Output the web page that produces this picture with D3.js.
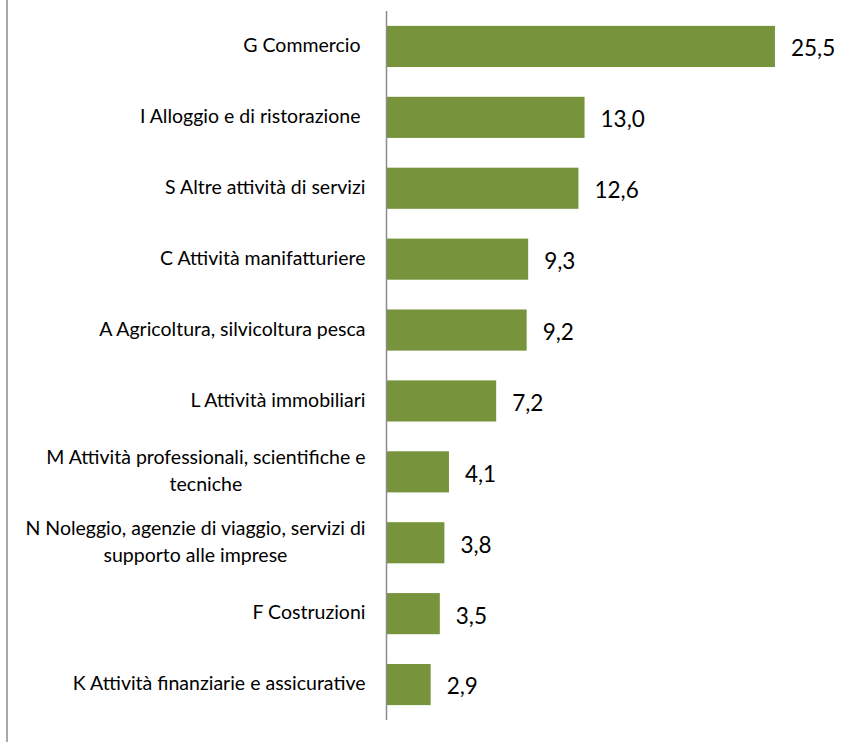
<!DOCTYPE html>
<html>
<head>
<meta charset="utf-8">
<script src="https://cdn.jsdelivr.net/npm/d3@7"></script>
<style>
  body { margin: 0; background: #fff; }
  svg { display: block; }
  text { font-family: Lato, "Open Sans", sans-serif; fill: #000; white-space: pre; }
</style>
</head>
<body>
<svg id="chart"></svg>
<script>
// sectors, top to bottom (line breaks and trailing spaces as in the original)
var categories = [
  "G Commercio ",
  "I Alloggio e di ristorazione ",
  "S Altre attività di servizi",
  "C Attività manifatturiere",
  "A Agricoltura, silvicoltura pesca",
  "L Attività immobiliari",
  "M Attività professionali, scientifiche e\ntecniche",
  "N Noleggio, agenzie di viaggio, servizi di\nsupporto alle imprese",
  "F Costruzioni",
  "K Attività finanziarie e assicurative"
];

var values = [25.5, 13.0, 12.6, 9.3, 9.2, 7.2, 4.1, 3.8, 3.5, 2.9];

var screen = { width: 863, height: 742 };
var margins = { top: 11, bottom: 22, left: 386.5, right: 19.5 };

var drawChart = function(idName, screen, margins)
{
  var graphWidth = screen.width - margins.left - margins.right;
  var graphHeight = screen.height - margins.top - margins.bottom;

  var svg = d3.select(idName)
    .attr("width", screen.width)
    .attr("height", screen.height);

  // left frame line
  svg.append("line")
    .attr("x1", 7).attr("x2", 7)
    .attr("y1", 0).attr("y2", screen.height)
    .attr("stroke", "#8c8c8c")
    .attr("stroke-width", 1.5);

  var x = d3.scaleLinear()
    .domain([0, 30])
    .range([0, graphWidth]);

  var y = d3.scaleBand()
    .domain(d3.range(categories.length))
    .range([0, graphHeight])
    .paddingInner(0.42)
    .paddingOuter(0.21);

  var g = svg.append("g")
    .attr("transform", "translate(" + margins.left + "," + margins.top + ")");

  g.selectAll("rect")
    .data(values)
    .join("rect")
      .attr("x", 0)
      .attr("y", (d, i) => y(i))
      .attr("width", d => x(d))
      .attr("height", y.bandwidth())
      .attr("fill", "#77933c");

  // value labels
  g.selectAll("text.val")
    .data(values)
    .join("text")
      .attr("class", "val")
      .attr("x", d => x(d) + 16)
      .attr("y", (d, i) => y(i) + y.bandwidth() / 2 + 2)
      .attr("dy", "0.35em")
      .style("font-size", "22.5px")
      .text(d => d3.format(".1f")(d).replace(".", ","));

  // category labels, multi-line ones centered on each other, right aligned as a block
  var labelRight = -21;
  var lineH = 27.5;
  categories.forEach(function(c, i)
  {
    var lines = c.split("\n");
    var cy = y(i) + y.bandwidth() / 2;
    var t = g.append("g");
    var texts = lines.map(function(l, k)
    {
      return t.append("text")
        .attr("y", cy - 1 + (k - (lines.length - 1) / 2) * lineH)
        .attr("dy", "0.35em")
        .style("font-size", "19.5px")
        .text(l);
    });
    var widths = texts.map(tx => tx.node().getComputedTextLength());
    var maxW = d3.max(widths);
    texts.forEach(function(tx, k)
    {
      tx.attr("x", labelRight - maxW / 2)
        .attr("text-anchor", "middle");
    });
  });

  // category axis line
  g.append("line")
    .attr("x1", 0).attr("x2", 0)
    .attr("y1", 0).attr("y2", graphHeight)
    .attr("stroke", "#8c8c8c")
    .attr("stroke-width", 1.5);
};

drawChart("#chart", screen, margins);
</script>
</body>
</html>
